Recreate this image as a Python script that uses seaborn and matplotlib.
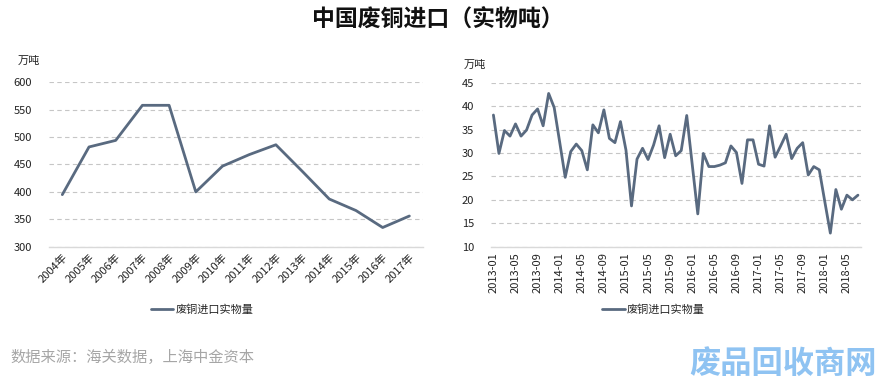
import numpy as np
import pandas as pd
import seaborn as sns
import matplotlib.pyplot as plt

# annual imports (万吨)
years = ['2004年', '2005年', '2006年', '2007年', '2008年', '2009年', '2010年',
         '2011年', '2012年', '2013年', '2014年', '2015年', '2016年', '2017年']
annual = [395, 482, 494, 558, 558, 400, 447, 468, 486, 437, 387, 366, 335, 356]

# monthly imports 2013-01 .. 2018-07 (万吨)
months = [f'{y}-{m:02d}' for y in range(2013, 2019) for m in range(1, 13)][:67]
monthly = [38.1, 29.9, 34.8, 33.6, 36.2, 33.6, 34.9, 38.1, 39.4, 35.8,
           42.7, 39.7, 32.3, 24.8, 30.3, 31.9, 30.5, 26.4, 36.0, 34.3,
           39.2, 33.1, 32.2, 36.7, 30.6, 18.7, 28.7, 31.0, 28.6, 31.7,
           35.8, 29.0, 34.0, 29.4, 30.5, 38.0, 27.5, 17.0, 29.9, 27.1,
           27.1, 27.4, 27.9, 31.5, 30.1, 23.5, 32.8, 32.8, 27.6, 27.2,
           35.8, 29.1, 31.5, 34.0, 28.8, 31.0, 32.2, 25.3, 27.1, 26.4,
           19.6, 12.9, 22.2, 18.0, 21.0, 20.0, 21.0]

series_name = '废铜进口实物量'
line_color = '#596a80'
grid_color = '#c6c6c6'
axis_color = '#d9d9d9'

sns.set_style('white')
plt.rcParams['font.family'] = ['Noto Sans CJK SC', 'DejaVu Sans']
plt.rcParams['font.size'] = 8

df_year = pd.DataFrame({'year': years, 'value': annual})
df_month = pd.DataFrame({'month': months, 'value': monthly})

fig = plt.figure(figsize=(8.79, 3.81), dpi=100)
ax1 = fig.add_axes([0.0557, 0.3525, 0.4252, 0.4315])
ax2 = fig.add_axes([0.5582, 0.3525, 0.4210, 0.4305])


def style_axis(ax, n, lo, hi, step, pad):
    ax.set_ylim(lo, hi)
    ax.set_yticks(np.arange(lo, hi + 0.1, step))
    ax.set_xlim(-0.5, n - 0.5)
    ax.yaxis.grid(True, linestyle=(0, (4, 3)), color=grid_color, linewidth=0.8)
    ax.set_axisbelow(True)
    for s in ['top', 'right', 'left']:
        ax.spines[s].set_visible(False)
    ax.spines['bottom'].set_color(axis_color)
    ax.spines['bottom'].set_linewidth(1.0)
    ax.tick_params(axis='y', length=0, pad=pad, labelsize=8, colors='#222222')
    ax.tick_params(axis='x', which='major', length=0, pad=4, labelsize=8,
                   colors='#222222')
    ax.tick_params(axis='x', which='minor', length=4, color=axis_color, width=1.0)
    ax.set_xlabel('')
    ax.set_ylabel('')


# --- left: annual ---
sns.lineplot(data=df_year, x='year', y='value', ax=ax1, color=line_color,
             linewidth=2.0, sort=False, label=series_name)
style_axis(ax1, len(years), 300, 600, 50, 12)
ax1.set_xticks(range(len(years)))
ax1.set_xticklabels(years, rotation=45, ha='right', rotation_mode='anchor')
ax1.set_xticks(np.arange(-0.5, len(years), 1), minor=True)
ax1.legend(loc='upper center', bbox_to_anchor=(0.41, -0.29), frameon=False,
           fontsize=8, handlelength=2.0, handletextpad=0.2)

# --- right: monthly ---
sns.lineplot(data=df_month, x='month', y='value', ax=ax2, color=line_color,
             linewidth=2.0, sort=False, label=series_name)
style_axis(ax2, len(months), 10, 45, 5, 12)
ax2.set_xticks(range(0, len(months), 4))
ax2.set_xticklabels(months[::4], rotation=90, ha='center')
ax2.set_xticks(np.arange(-0.5, len(months), 4), minor=True)
ax2.legend(loc='upper center', bbox_to_anchor=(0.44, -0.29), frameon=False,
           fontsize=8, handlelength=2.0, handletextpad=0.2)

# units
fig.text(0.020, 0.832, '万吨', fontsize=8, color='#222222')
fig.text(0.527, 0.822, '万吨', fontsize=8, color='#222222')

# title
fig.text(0.498, 0.95, '中国废铜进口（实物吨）', ha='center', va='center',
         fontsize=16.5, fontweight='bold', color='#111111')

# source
fig.text(0.012, 0.063, '数据来源：海关数据，上海中金资本', ha='left', va='center',
         fontsize=11, color='#a6a6a6', style='italic')

# watermark
fig.text(0.998, 0.045, '废品回收商网', ha='right', va='center', fontsize=22.5,
         color='#8fc3f2', fontweight='bold')

fig.savefig('out.png', dpi=100, facecolor='white')
